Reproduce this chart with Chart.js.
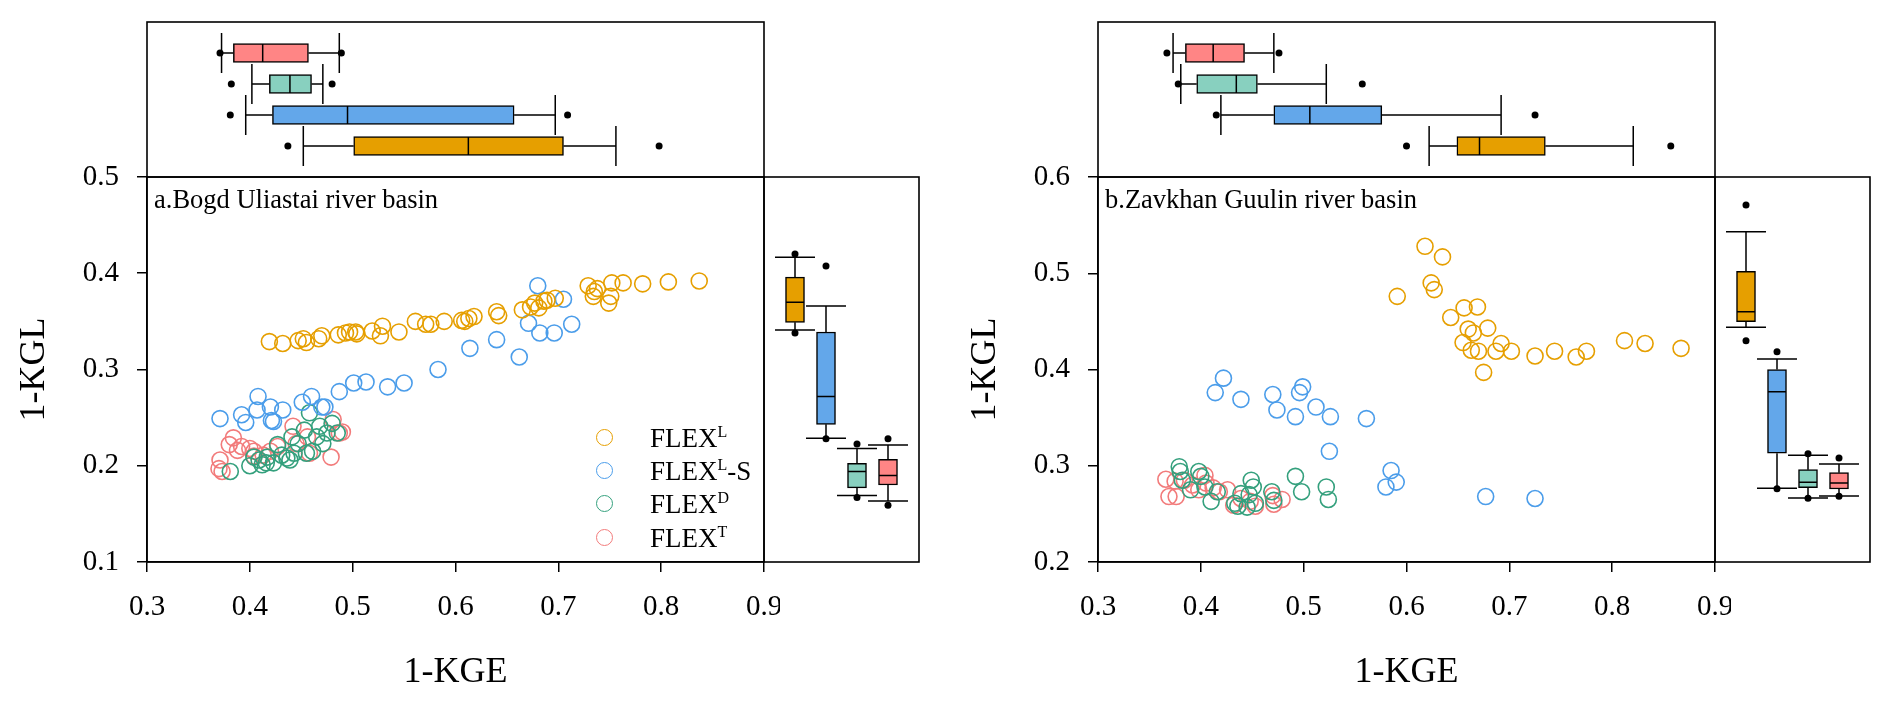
<!DOCTYPE html>
<html>
<head>
<meta charset="utf-8">
<title>1-KGE vs 1-KGL</title>
<script src="https://cdn.jsdelivr.net/npm/chart.js@4.4.0/dist/chart.umd.min.js"></script>
<style>
  body { margin: 0; background: #fff; font-family: 'Liberation Serif', 'Times New Roman', serif; }
  #page { position: relative; width: 1892px; height: 704px; overflow: hidden; background: #fff; }
  #page canvas { position: absolute; }
  .panel-title { position: absolute; font-size: 26.5px; line-height: 28px; white-space: nowrap; color: #000; }
  .legend-mark { position: absolute; width: 17px; height: 17px; box-sizing: border-box; border-radius: 50%; border: 1.6px solid; }
  .legend-text { position: absolute; font-size: 27px; line-height: 27px; white-space: nowrap; color: #000; }
  .legend-text sup { font-size: 16px; line-height: 0; }
</style>
</head>
<body>
<div id="page"></div>
<script>
// series order everywhere: FLEX^L, FLEX^L-S, FLEX^D, FLEX^T
const seriesLabels = ['FLEX<sup>L</sup>', 'FLEX<sup>L</sup>-S', 'FLEX<sup>D</sup>', 'FLEX<sup>T</sup>'];
const pointColors = ['#e69f00', '#4b9dea', '#34a07d', '#f27b7b'];
const boxFills = ['#e69f00', '#63a7ea', '#88d0bf', '#ff8585'];
const panelTitles = ['a.Bogd Uliastai river basin', 'b.Zavkhan Guulin river basin'];

const kgeTicks = [0.3, 0.4, 0.5, 0.6, 0.7, 0.8, 0.9];
const bogdKglTicks = [0.1, 0.2, 0.3, 0.4, 0.5];
const zavKglTicks = [0.2, 0.3, 0.4, 0.5, 0.6];

// a. Bogd Uliastai: [1-KGE, 1-KGL]
const bogdL = [[0.419,0.329],[0.432,0.327],[0.447,0.330],[0.452,0.332],[0.455,0.328],[0.467,0.332],[0.470,0.335],[0.486,0.336],[0.493,0.338],[0.497,0.339],[0.503,0.339],[0.504,0.337],[0.519,0.340],[0.527,0.335],[0.529,0.345],[0.545,0.339],[0.561,0.350],[0.571,0.347],[0.576,0.347],[0.589,0.350],[0.606,0.351],[0.609,0.350],[0.613,0.353],[0.618,0.355],[0.640,0.360],[0.642,0.356],[0.665,0.362],[0.673,0.365],[0.677,0.369],[0.681,0.364],[0.686,0.371],[0.689,0.372],[0.697,0.374],[0.729,0.387],[0.735,0.381],[0.738,0.384],[0.734,0.376],[0.749,0.369],[0.751,0.376],[0.752,0.390],[0.763,0.390],[0.782,0.389],[0.807,0.391],[0.837,0.392]];
const bogdLS = [[0.371,0.249],[0.392,0.253],[0.396,0.245],[0.408,0.272],[0.407,0.258],[0.420,0.261],[0.421,0.247],[0.423,0.246],[0.432,0.258],[0.451,0.266],[0.460,0.272],[0.470,0.261],[0.473,0.261],[0.487,0.277],[0.501,0.286],[0.513,0.287],[0.534,0.282],[0.550,0.286],[0.583,0.300],[0.614,0.322],[0.640,0.331],[0.662,0.313],[0.671,0.348],[0.680,0.387],[0.682,0.338],[0.696,0.338],[0.705,0.373],[0.713,0.347]];
const bogdD = [[0.381,0.194],[0.400,0.200],[0.404,0.209],[0.412,0.201],[0.417,0.209],[0.423,0.203],[0.431,0.211],[0.436,0.208],[0.441,0.230],[0.443,0.213],[0.447,0.223],[0.453,0.237],[0.458,0.255],[0.461,0.215],[0.465,0.230],[0.468,0.241],[0.471,0.223],[0.475,0.234],[0.480,0.244],[0.485,0.234],[0.427,0.222],[0.416,0.203],[0.409,0.206],[0.439,0.206],[0.455,0.213]];
const bogdT = [[0.371,0.206],[0.370,0.197],[0.373,0.194],[0.380,0.222],[0.384,0.229],[0.392,0.220],[0.400,0.218],[0.404,0.210],[0.413,0.211],[0.420,0.215],[0.427,0.220],[0.442,0.241],[0.445,0.223],[0.456,0.230],[0.458,0.213],[0.479,0.209],[0.481,0.248],[0.487,0.234],[0.490,0.235],[0.404,0.215],[0.388,0.216]];

// b. Zavkhan Guulin: [1-KGE, 1-KGL]
const zavL = [[0.618,0.528],[0.635,0.517],[0.624,0.490],[0.627,0.483],[0.591,0.476],[0.656,0.464],[0.669,0.465],[0.643,0.454],[0.660,0.442],[0.665,0.438],[0.679,0.443],[0.655,0.428],[0.663,0.420],[0.670,0.419],[0.692,0.427],[0.687,0.419],[0.702,0.419],[0.675,0.397],[0.725,0.414],[0.744,0.419],[0.765,0.413],[0.775,0.419],[0.812,0.430],[0.832,0.427],[0.867,0.422]];
const zavLS = [[0.422,0.391],[0.414,0.376],[0.439,0.369],[0.470,0.374],[0.474,0.358],[0.492,0.351],[0.496,0.376],[0.499,0.382],[0.512,0.361],[0.526,0.351],[0.561,0.349],[0.525,0.315],[0.585,0.295],[0.580,0.278],[0.590,0.283],[0.677,0.268],[0.725,0.266]];
const zavD = [[0.379,0.299],[0.380,0.294],[0.390,0.275],[0.398,0.294],[0.400,0.289],[0.410,0.263],[0.416,0.273],[0.433,0.261],[0.436,0.258],[0.445,0.257],[0.449,0.285],[0.451,0.278],[0.447,0.270],[0.453,0.261],[0.469,0.273],[0.471,0.264],[0.492,0.289],[0.498,0.273],[0.522,0.278],[0.524,0.265],[0.382,0.285],[0.404,0.278],[0.439,0.271]];
const zavT = [[0.366,0.286],[0.369,0.268],[0.376,0.268],[0.375,0.284],[0.384,0.285],[0.392,0.280],[0.404,0.290],[0.398,0.275],[0.412,0.277],[0.418,0.273],[0.426,0.275],[0.432,0.259],[0.439,0.266],[0.448,0.263],[0.453,0.258],[0.470,0.269],[0.471,0.260],[0.479,0.265],[0.405,0.282]];

// box stats per series: [low dot, low whisker, q1, median, q3, high whisker, high dot]
const bogdKgeBox = [[0.437,0.452,0.501,0.6125,0.705,0.756,0.798],[0.381,0.396,0.422,0.495,0.657,0.697,0.709],[0.382,0.402,0.419,0.439,0.460,0.471,0.480],[0.371,0.3725,0.384,0.4125,0.457,0.487,0.489]];
const bogdKglBox = [[0.338,0.341,0.349,0.370,0.396,0.4166,0.420],[0.228,0.2285,0.243,0.272,0.339,0.366,0.4075],[0.167,0.169,0.177,0.194,0.2025,0.218,0.2226],[0.159,0.1634,0.180,0.190,0.2067,0.2215,0.228]];
const zavKgeBox = [[0.600,0.622,0.649,0.671,0.735,0.8205,0.857],[0.415,0.4195,0.471,0.506,0.576,0.692,0.725],[0.378,0.3805,0.396,0.4345,0.455,0.522,0.557],[0.367,0.373,0.385,0.412,0.4425,0.471,0.476]];
const zavKglBox = [[0.430,0.444,0.4497,0.460,0.502,0.543,0.571],[0.276,0.2766,0.313,0.377,0.400,0.411,0.4185],[0.2663,0.2665,0.2772,0.2828,0.2959,0.311,0.3125],[0.2682,0.2686,0.2758,0.2821,0.2928,0.3018,0.3081]];

Chart.defaults.font.family = "'Liberation Serif', 'Times New Roman', serif";
Chart.defaults.color = '#000';

const page = document.getElementById('page');

const framePlugin = {
    id: 'frame',
    afterDatasetsDraw(chart) {
        const { ctx, chartArea: a } = chart;
        ctx.save();
        ctx.strokeStyle = '#000';
        ctx.lineWidth = 1.6;
        ctx.strokeRect(a.left, a.top, a.right - a.left, a.bottom - a.top);
        ctx.restore();
    }
};

function addCanvas(left, top, width, height) {
    const c = document.createElement('canvas');
    c.width = width;
    c.height = height;
    c.style.left = left + 'px';
    c.style.top = top + 'px';
    c.style.width = width + 'px';
    c.style.height = height + 'px';
    page.appendChild(c);
    return c;
}

function fixedTicks(values) {
    return scale => { scale.ticks = values.map(v => ({ value: v })); };
}

function axisStyle(ticks) {
    return {
        type: 'linear',
        min: ticks[0],
        max: ticks[ticks.length - 1],
        afterBuildTicks: fixedTicks(ticks),
        grid: { drawOnChartArea: false, drawTicks: true, tickLength: 10, color: '#000', lineWidth: 1.5 },
        border: { display: true, color: '#000', width: 1.6 },
        ticks: { padding: 18, font: { size: 29 }, color: '#000', maxRotation: 0, autoSkip: false, callback: v => v.toFixed(1) }
    };
}

function makeScatter(left, series, kglTicks) {
    const canvas = addCanvas(left, 160, 780, 544);
    const x = axisStyle(kgeTicks);
    // fixed axis sizes, and no extra room for the end labels
    x.afterFit = scale => { scale.height = 142; scale.paddingLeft = 0; scale.paddingRight = 0; };
    x.title = { display: true, text: '1-KGE', font: { size: 36 }, padding: { top: 0, bottom: 10 } };
    const y = axisStyle(kglTicks);
    y.afterFit = scale => { scale.width = 147; scale.paddingTop = 0; scale.paddingBottom = 0; };
    y.title = { display: true, text: '1-KGL', font: { size: 36 }, padding: { top: 13, bottom: 0 } };

    return new Chart(canvas, {
        type: 'scatter',
        data: {
            datasets: series.map((pts, i) => ({
                label: seriesLabels[i].replace(/<\/?sup>/g, ''),
                data: pts.map(p => ({ x: p[0], y: p[1] })),
                pointRadius: 8,
                pointHoverRadius: 8,
                pointBorderWidth: 1.6,
                pointBackgroundColor: 'rgba(0,0,0,0)',
                pointBorderColor: pointColors[i]
            }))
        },
        options: {
            responsive: false,
            animation: false,
            events: [],
            layout: { padding: { left: 0, right: 16, top: 17, bottom: 0 } },
            plugins: { legend: { display: false }, tooltip: { enabled: false } },
            scales: { x, y }
        },
        plugins: [framePlugin]
    });
}

function boxDatasets(stats, horizontal) {
    const capHalf = 0.645;
    const boxHalf = 0.29;
    const bars = [];
    const lines = [];
    const dots = [];
    stats.forEach((s, i) => {
        // FLEX^L sits nearest the scatter: bottom row on top, left column on the right
        const p = i + 1;
        const [dLo, cLo, q1, med, q3, cHi, dHi] = s;
        const pt = (v, q) => horizontal ? { x: v, y: q } : { x: q, y: v };
        bars.push(horizontal ? { y: p, x: [q1, q3] } : { x: p, y: [q1, q3] });
        const segs = [
            [pt(cLo, p), pt(q1, p)],
            [pt(q3, p), pt(cHi, p)],
            [pt(cLo, p - capHalf), pt(cLo, p + capHalf)],
            [pt(cHi, p - capHalf), pt(cHi, p + capHalf)],
            [pt(med, p - boxHalf), pt(med, p + boxHalf)]
        ];
        segs.forEach(sg => {
            lines.push(sg[0], sg[1], { x: 0, y: null });
        });
        dots.push(pt(dLo, p), pt(dHi, p));
    });
    return [
        {
            type: 'bar',
            indexAxis: horizontal ? 'y' : 'x',
            data: bars,
            backgroundColor: boxFills,
            borderColor: '#000',
            borderWidth: 1.5,
            borderSkipped: false,
            barThickness: 19,
            order: 3
        },
        {
            type: 'line',
            data: lines,
            borderColor: '#000',
            borderWidth: 1.5,
            pointRadius: 0,
            pointHoverRadius: 0,
            fill: false,
            spanGaps: false,
            tension: 0,
            order: 2
        },
        {
            type: 'scatter',
            data: dots,
            pointRadius: 3.5,
            pointHoverRadius: 3.5,
            pointBackgroundColor: '#000',
            pointBorderWidth: 0,
            order: 1
        }
    ];
}

function makeBoxPanel(canvas, padding, stats, horizontal, valueTicks) {
    const valueAxis = { type: 'linear', display: false, offset: false, min: valueTicks[0], max: valueTicks[valueTicks.length - 1] };
    const slotAxis = { type: 'linear', display: false, offset: false, min: 0, max: 5 };
    return new Chart(canvas, {
        type: 'bar',
        data: { datasets: boxDatasets(stats, horizontal) },
        options: {
            responsive: false,
            animation: false,
            events: [],
            layout: { padding },
            plugins: { legend: { display: false }, tooltip: { enabled: false } },
            scales: horizontal ? { x: valueAxis, y: slotAxis } : { x: slotAxis, y: valueAxis }
        },
        plugins: [framePlugin]
    });
}

function addText(cls, left, top, html) {
    const d = document.createElement('div');
    d.className = cls;
    d.style.left = left + 'px';
    d.style.top = top + 'px';
    d.innerHTML = html;
    page.appendChild(d);
    return d;
}

const plots = [
    { ox: 0, series: [bogdL, bogdLS, bogdD, bogdT], kglTicks: bogdKglTicks, kgeBox: bogdKgeBox, kglBox: bogdKglBox },
    { ox: 951, series: [zavL, zavLS, zavD, zavT], kglTicks: zavKglTicks, kgeBox: zavKgeBox, kglBox: zavKglBox }
];

plots.forEach((p, k) => {
    makeScatter(p.ox, p.series, p.kglTicks);
    makeBoxPanel(addCanvas(p.ox + 130, 0, 650, 190), { left: 17, right: 16, top: 22, bottom: 13 }, p.kgeBox, true, kgeTicks);
    makeBoxPanel(addCanvas(p.ox + 760, 160, 170, 420), { left: 4, right: 11, top: 17, bottom: 18 }, p.kglBox, false, p.kglTicks);
    addText('panel-title', p.ox + 154, 185, panelTitles[k]);
});

// legend (panel a only)
const legendRows = [437, 470, 503, 537];
seriesLabels.forEach((label, i) => {
    const m = addText('legend-mark', 596, legendRows[i] - 8.5, '');
    m.style.borderColor = pointColors[i];
    addText('legend-text', 650, legendRows[i] - 12, label);
});
</script>
</body>
</html>
